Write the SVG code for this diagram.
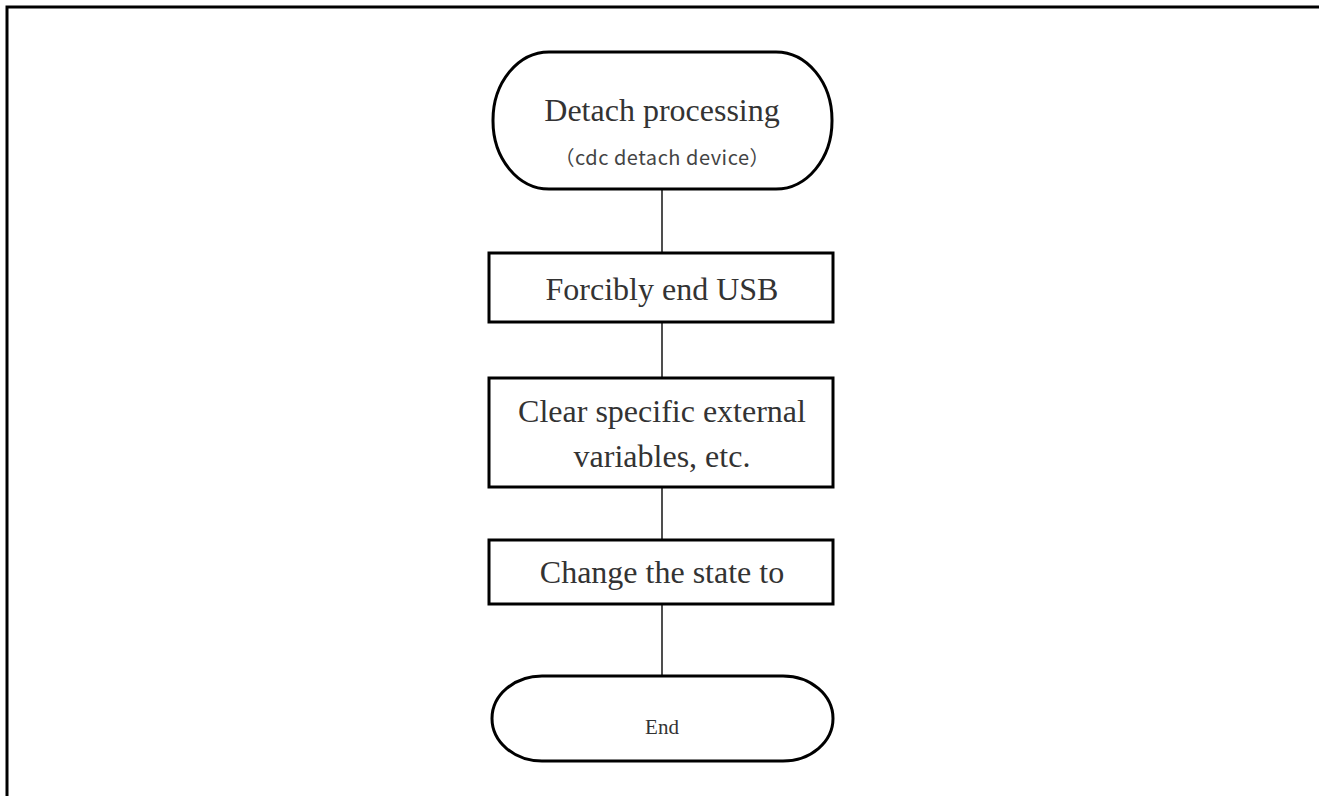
<svg xmlns="http://www.w3.org/2000/svg" width="1319" height="796" viewBox="0 0 1319 796">
  <style>
    .shape { fill: #ffffff; stroke: #000000; stroke-width: 3; }
    .conn { stroke: #222222; stroke-width: 1.6; fill: none; }
    .lbl { font-family: "Liberation Serif", "Times New Roman", serif; fill: #333333; text-anchor: middle; }
    .sub { font-family: "Noto Sans CJK JP", "DejaVu Sans", sans-serif; fill: #444444; text-anchor: middle; }
  </style>
  <rect width="1319" height="796" fill="#ffffff"/>
  <!-- frame: top and left rules -->
  <path d="M7 796 V7 H1319" fill="none" stroke="#000000" stroke-width="3"/>

  <g id="connectors">
    <line class="conn" x1="662" y1="189" x2="662" y2="253"/>
    <line class="conn" x1="662" y1="322" x2="662" y2="378"/>
    <line class="conn" x1="662" y1="487" x2="662" y2="540"/>
    <line class="conn" x1="662" y1="604" x2="662" y2="676"/>
  </g>

  <g id="start">
    <rect class="shape" x="493" y="52" width="339" height="137" rx="56" ry="68"/>
    <text class="lbl" x="662" y="121" font-size="32">Detach processing</text>
    <text class="sub" x="662" y="165" font-size="20" textLength="215" lengthAdjust="spacing">（cdc  detach  device）</text>
  </g>

  <g id="forcibly-end">
    <rect class="shape" x="489" y="253" width="344" height="69"/>
    <text class="lbl" x="662" y="300" font-size="32">Forcibly end USB</text>
  </g>

  <g id="clear-vars">
    <rect class="shape" x="489" y="378" width="344" height="109"/>
    <text class="lbl" x="662" y="422" font-size="32">Clear specific external</text>
    <text class="lbl" x="662" y="467" font-size="32">variables, etc.</text>
  </g>

  <g id="change-state">
    <rect class="shape" x="489" y="540" width="344" height="64"/>
    <text class="lbl" x="662" y="583" font-size="32">Change the state to</text>
  </g>

  <g id="end">
    <rect class="shape" x="492" y="676" width="341" height="85" rx="50" ry="42.5"/>
    <text class="lbl" x="662" y="734" font-size="21">End</text>
  </g>
</svg>
